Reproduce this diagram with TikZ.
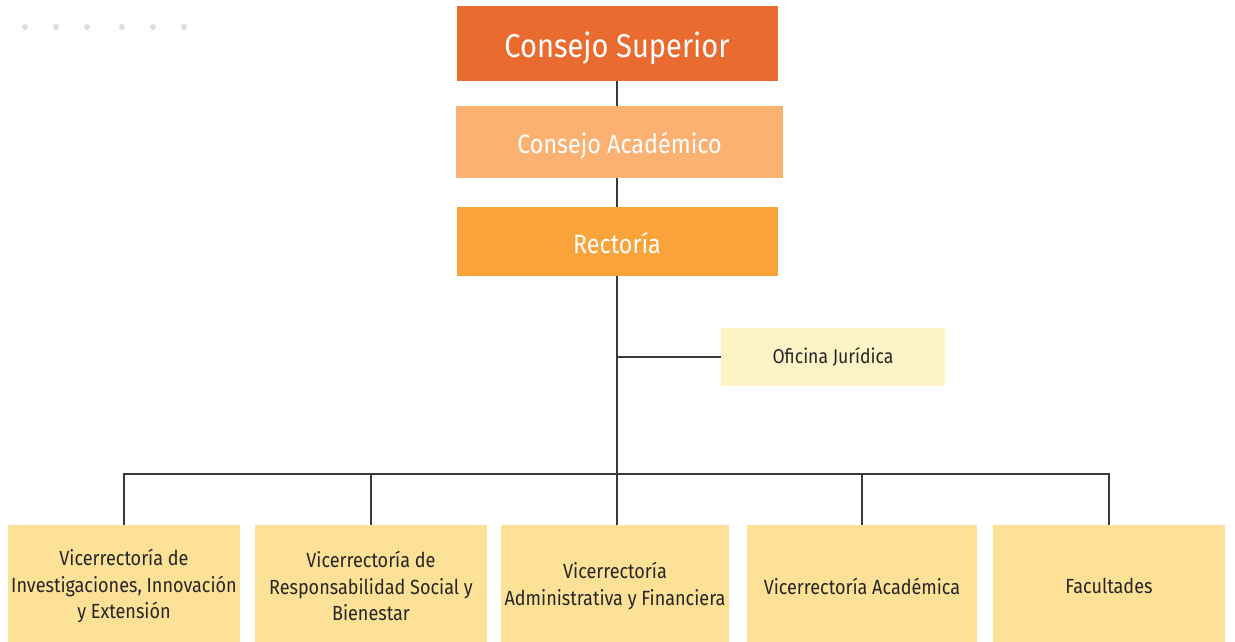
\documentclass[tikz,border=0pt]{standalone}
\usepackage{fontspec}
\setmainfont[FakeStretch=0.88]{Fira Sans}
\definecolor{csup}{HTML}{E96B30}
\definecolor{caca}{HTML}{FBB172}
\definecolor{crec}{HTML}{FBA33B}
\definecolor{cofi}{HTML}{FDF3C6}
\definecolor{cvic}{HTML}{FCE196}
\definecolor{cline}{HTML}{3A3A3A}
\definecolor{cdot}{HTML}{DDDDDD}
\newcommand{\lowtext}[2]{\smash{\raisebox{-#1}{#2}}}
\tikzset{
  box/.style={draw=none, inner sep=0pt, align=center},
  top/.style={box, text=white},
  vic/.style={box, fill=cvic, minimum width=232pt, minimum height=122pt, text=black!85, font=\fontsize{20.5}{26.5}\selectfont},
  conn/.style={draw=cline, line width=1.6pt},
}
\begin{document}
\begin{tikzpicture}[x=1pt,y=-1pt]
\useasboundingbox (0,0) rectangle (1235,641);
\foreach \px in {25,56,87,122,153,184} \fill[cdot] (\px,27) circle (3);
\node[top, fill=csup, minimum width=321pt, minimum height=75pt, font=\fontsize{33}{38}\selectfont] (sup) at (617,43.5) {\lowtext{13.5pt}{Consejo Superior}};
\node[top, fill=caca, minimum width=327pt, minimum height=72pt, font=\fontsize{26.5}{30}\selectfont] (aca) at (619.5,142) {\lowtext{11.5pt}{Consejo Académico}};
\node[top, fill=crec, minimum width=321pt, minimum height=69pt, font=\fontsize{26.5}{30}\selectfont] (rec) at (617,241.5) {\lowtext{11.5pt}{Rectoría}};
\node[box, fill=cofi, minimum width=224pt, minimum height=58pt, text=black!85, font=\fontsize{20}{24}\selectfont] (ofi) at (833,357) {Oficina Jurídica};
\node[vic, minimum width=232pt] (v1) at (124,586) {Vicerrectoría de\\Investigaciones, Innovación\\y Extensión};
\node[vic, minimum width=232pt] (v2) at (371,586) {Vicerrectoría de\\Responsabilidad Social y\\Bienestar};
\node[vic, minimum width=228pt] (v3) at (615,586) {Vicerrectoría\\Administrativa y Financiera};
\node[vic, minimum width=230pt] (v4) at (862,586) {Vicerrectoría Académica};
\node[vic, minimum width=232pt] (v5) at (1109,586) {Facultades};
\coordinate (j) at (617,357);
\draw[conn] (sup.south) -- (sup.south |- aca.north);
\draw[conn] (rec.north |- aca.south) -- (rec.north);
\draw[conn] (rec.south) -- (rec.south |- v3.north);
\draw[conn] (j) -- (ofi.west);
\draw[conn] (v1.north) -- (124,474) -- (1109,474) -- (v5.north);
\draw[conn] (v2.north) -- (371,474);
\draw[conn] (v4.north) -- (862,474);
\end{tikzpicture}
\end{document}
